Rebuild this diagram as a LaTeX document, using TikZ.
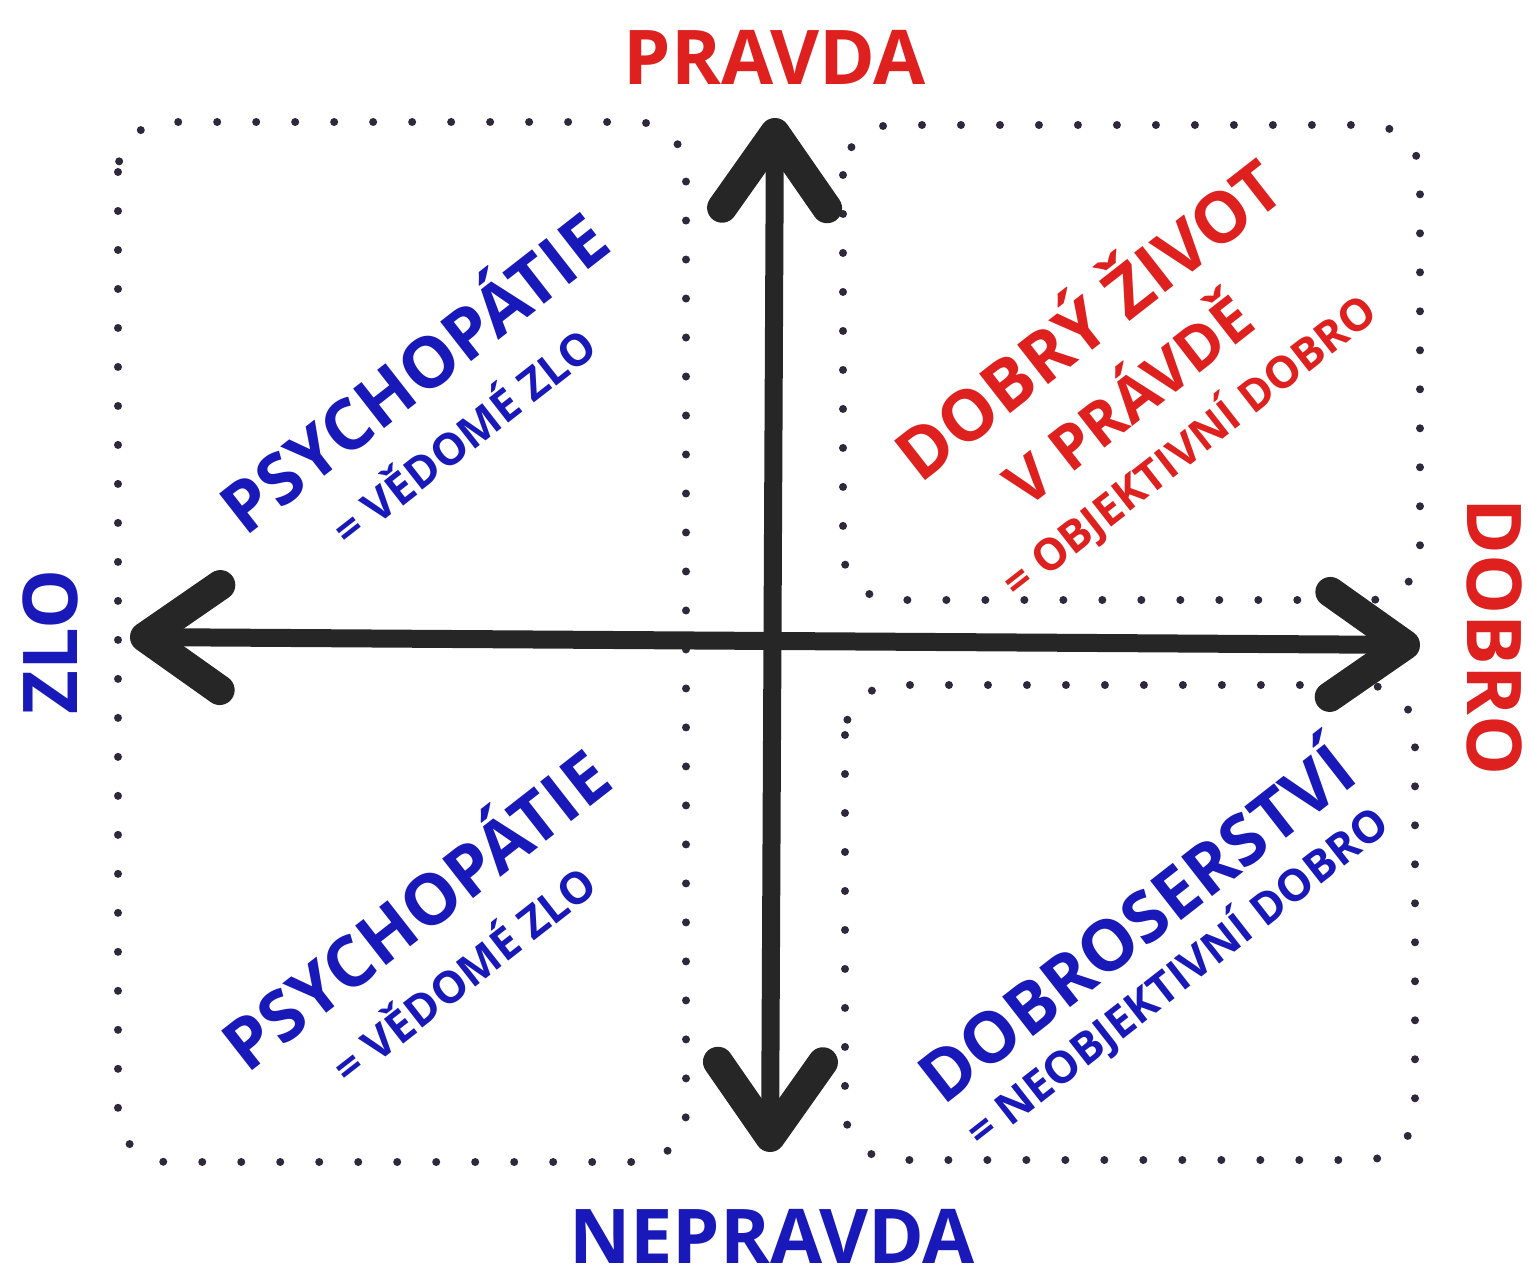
\documentclass[tikz,border=0pt]{standalone}
\usepackage{fontspec}
\setmainfont{Open Sans}
\usetikzlibrary{arrows.meta}
\definecolor{truered}{RGB}{222,32,30}
\definecolor{falseblue}{RGB}{25,25,185}
\definecolor{axisgray}{RGB}{38,38,38}
\definecolor{dotgray}{RGB}{45,40,60}
\begin{document}
\begin{tikzpicture}[x=0.02cm, y=-0.02cm,
    barb/.tip={Straight Barb[length=1.5cm, width=2.1cm, line width=0.6cm, round]},
    axis/.style={draw=axisgray, line width=0.36cm, line cap=round, barb-barb},
    dotbox/.style={draw=dotgray, line width=0.16cm, line cap=round,
        dash pattern=on 0pt off 0.78cm, rounded corners=1cm},
    pole/.style={font=\fontsize{43}{48}\selectfont\bfseries, inner sep=0pt},
    quadmain/.style={font=\fontsize{40}{44}\selectfont\bfseries, rotate=38, inner sep=0pt},
    quadsub/.style={font=\fontsize{25}{28}\selectfont\bfseries, rotate=38, inner sep=0pt}]
    \useasboundingbox (0,0) rectangle (1531,1283);

    % dotted areas
    \draw[dotbox] (118,122) rectangle (686,1162);
    \draw[dotbox] (843,125) rectangle (1420,600);
    \draw[dotbox] (845,685) rectangle (1415,1160);

    % poles
    \node[pole, text=truered] (pravda) at (775,57) {PRAVDA};
    \node[pole, text=falseblue] (nepravda) at (772,1236) {NEPRAVDA};
    \node[pole, text=falseblue, rotate=90] (zlo) at (50,642) {ZLO};
    \node[pole, text=truered, rotate=-90] (dobro) at (1495,637) {DOBRO};

    % axes
    \coordinate (zloEnd) at (130,637);
    \coordinate (dobroEnd) at (1420,645);
    \coordinate (pravdaEnd) at (775,118);
    \coordinate (nepravdaEnd) at (770,1152);
    \draw[axis] (zloEnd) -- (dobroEnd);
    \draw[axis] (pravdaEnd) -- (nepravdaEnd);

    % quadrants
    \node[quadmain, text=falseblue] (psychTop) at (410,368) {PSYCHOPÁTIE};
    \node[quadsub, text=falseblue] (psychTopSub) at (462,434) {= VĚDOMÉ ZLO};
    \node[quadmain, text=falseblue] (psychBot) at (412,905) {PSYCHOPÁTIE};
    \node[quadsub, text=falseblue] (psychBotSub) at (462,972) {= VĚDOMÉ ZLO};
    \node[quadmain, text=truered] (goodLife) at (1085,315) {DOBRÝ ŽIVOT};
    \node[quadmain, text=truered, font=\fontsize{35}{40}\selectfont\bfseries] (inTruth) at (1125,396) {V PRÁVDĚ};
    \node[quadsub, text=truered] (goodLifeSub) at (1189,446) {= OBJEKTIVNÍ DOBRO};
    \node[quadmain, text=falseblue] (dogooder) at (1132,918) {DOBROSERSTVÍ};
    \node[quadsub, text=falseblue] (dogooderSub) at (1177,977) {= NEOBJEKTIVNÍ DOBRO};
\end{tikzpicture}
\end{document}
